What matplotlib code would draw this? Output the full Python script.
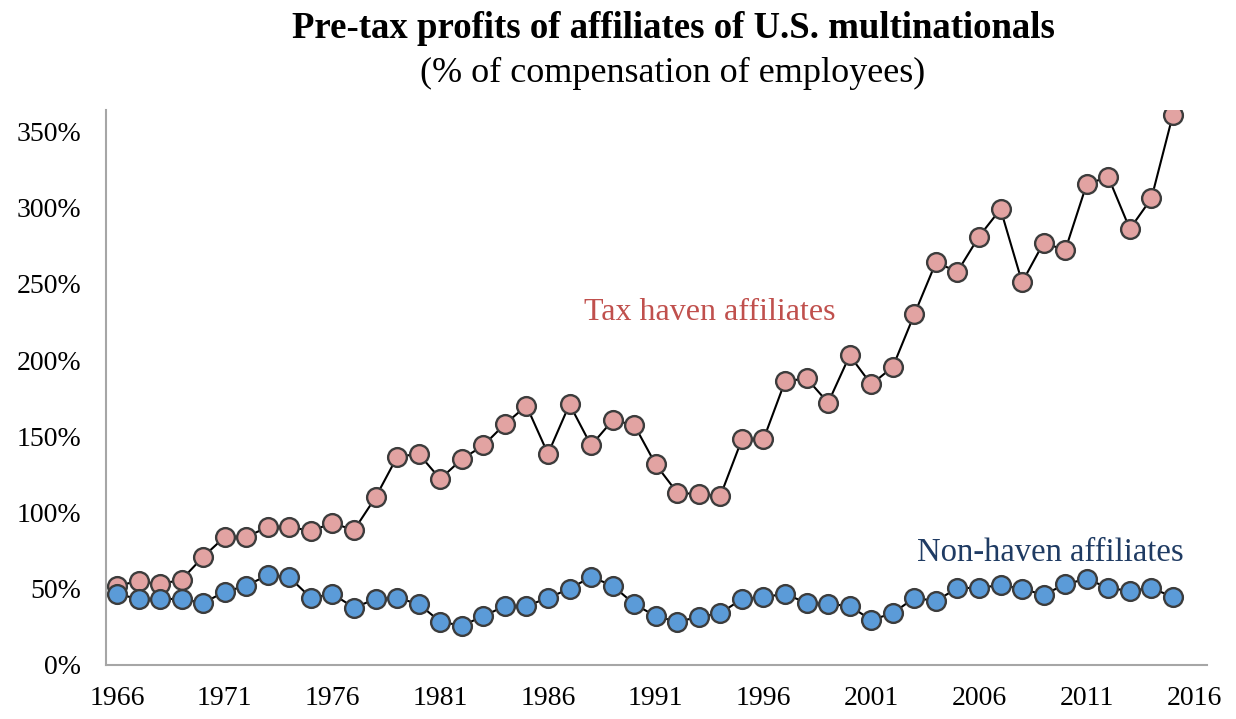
import matplotlib
matplotlib.use("Agg")
import matplotlib.pyplot as plt
from matplotlib.ticker import FuncFormatter

years = list(range(1966, 2016))
tax_haven = [52, 55, 53, 56, 71, 84, 84, 90.5, 90.5, 88,
             93, 88.5, 110, 136.5, 138.5, 122, 135, 144, 158, 170,
             138.5, 171, 144, 160.5, 157.5, 131.5, 113, 112, 111, 148,
             148, 186, 188, 172, 203, 184, 195.5, 230, 264, 258,
             281, 299, 251, 277, 272, 315.5, 320, 286, 306, 361]
non_haven = [46.6, 43.3, 43.3, 43.3, 40.7, 48, 52, 59, 57.5, 44,
             46.6, 37.6, 43.3, 44, 40, 28.4, 25.8, 32, 38.7, 38.7,
             44, 50, 57.8, 52, 40, 32, 28.4, 31.5, 34, 43.3,
             44.6, 46.6, 40.7, 40, 38.7, 29.5, 34, 44, 42, 50.5,
             50.5, 52.5, 50, 46, 53, 56.5, 50.5, 48.6, 50.5, 44.6]
y_ticks = [0, 50, 100, 150, 200, 250, 300, 350]
x_ticks = [1966, 1971, 1976, 1981, 1986, 1991, 1996, 2001, 2006, 2011, 2016]

plt.rcParams['font.family'] = ['Liberation Serif', 'DejaVu Serif']

fig = plt.figure(figsize=(12.36, 7.19), dpi=100)
ax = fig.add_axes([106/1236, 1 - 665/719, (1207-106)/1236, (665-110)/719])

pink = "#E2A3A2"
blue = "#5B9BD8"
edge = "#3C3C3C"

ax.plot(years, tax_haven, color="black", lw=1.5, marker="o", ms=13.5,
        mfc=pink, mec=edge, mew=1.7, zorder=3)
ax.plot(years, non_haven, color="black", lw=1.5, marker="o", ms=13.5,
        mfc=blue, mec=edge, mew=1.7, zorder=4)

ax.set_xlim(1965.49, 2016.58)
ax.set_ylim(0, 364)
ax.set_yticks(y_ticks)
ax.yaxis.set_major_formatter(FuncFormatter(lambda v, p: f"{int(v)}%"))
ax.set_xticks(x_ticks)
ax.set_xticklabels([str(x) for x in x_ticks])
ax.tick_params(axis="both", length=0, labelsize=20, colors="black")
ax.tick_params(axis="x", pad=15)
ax.tick_params(axis="y", pad=18)

for s in ["top", "right"]:
    ax.spines[s].set_visible(False)
for s in ["left", "bottom"]:
    ax.spines[s].set_color("#A6A6A6")
    ax.spines[s].set_linewidth(1.5)

ax.text(1993.5, 231, "Tax haven affiliates", color="#C0504D", fontsize=23,
        ha="center", va="center")
ax.text(2009.3, 73.5, "Non-haven affiliates", color="#1F3B63", fontsize=23.5,
        ha="center", va="center")

fig.text(673/1236, 1 - 29/719, "Pre-tax profits of affiliates of U.S. multinationals",
         ha="center", va="center", fontsize=26.5, fontweight="bold")
fig.text(673/1236, 1 - 73/719, "(% of compensation of employees)",
         ha="center", va="center", fontsize=26)

fig.savefig("out.png", dpi=100, facecolor="white")
